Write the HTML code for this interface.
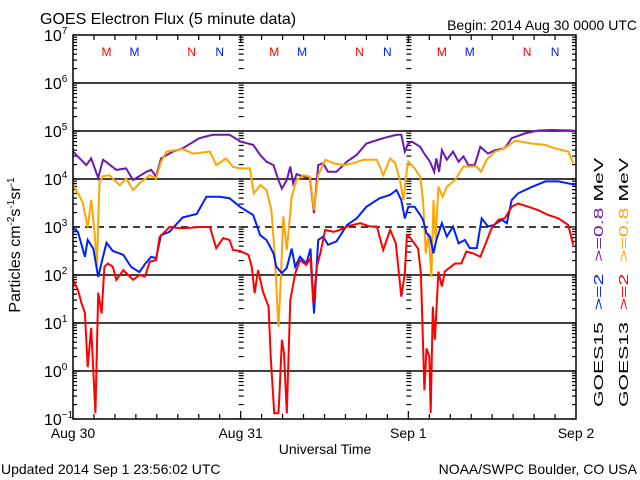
<!DOCTYPE html>
<html><head><meta charset="utf-8">
<style>
html,body{margin:0;padding:0;background:#fff;}
svg{display:block;font-family:"Liberation Sans",sans-serif;}
</style></head>
<body>
<svg id="chart" width="640" height="480" viewBox="0 0 640 480" xmlns="http://www.w3.org/2000/svg">
<rect x="0" y="0" width="640" height="480" fill="#fff"/>
<text x="40" y="24" font-size="16" fill="#000">GOES Electron Flux (5 minute data)</text>
<text x="637" y="30" font-size="14" text-anchor="end" fill="#000">Begin: 2014 Aug 30 0000 UTC</text>
<g id="grid"></g>
<g id="ticks"></g>
<g id="ylabels"></g>
<g id="xlabels"></g>
<g id="markers"></g>
<g id="series"></g>
<rect x="73" y="35" width="503" height="384" fill="none" stroke="#000" stroke-width="1.5"/>
<text transform="translate(20,245) rotate(-90)" font-size="16" text-anchor="middle" fill="#000">Particles cm<tspan font-size="10" dy="-6">-2</tspan><tspan dy="6">s</tspan><tspan font-size="10" dy="-6">-1</tspan><tspan dy="6">sr</tspan><tspan font-size="10" dy="-6">-1</tspan></text>
<text x="325" y="454" font-size="14" text-anchor="middle" fill="#000">Universal Time</text>
<text x="1" y="474" font-size="14" fill="#000">Updated 2014 Sep  1 23:56:02 UTC</text>
<text x="637" y="474" font-size="14" text-anchor="end" fill="#000">NOAA/SWPC Boulder, CO USA</text>
<text transform="translate(603,407) rotate(-90)" font-size="13" textLength="249" lengthAdjust="spacingAndGlyphs" xml:space="preserve"><tspan fill="#000">GOES15  </tspan><tspan fill="#0020ff">&gt;=2  </tspan><tspan fill="#6a1ab0">&gt;=0.8 </tspan><tspan fill="#000">MeV</tspan></text>
<text transform="translate(628,407) rotate(-90)" font-size="13" textLength="249" lengthAdjust="spacingAndGlyphs" xml:space="preserve"><tspan fill="#000">GOES13  </tspan><tspan fill="#ff0000">&gt;=2  </tspan><tspan fill="#ffa500">&gt;=0.8 </tspan><tspan fill="#000">MeV</tspan></text>
</svg>
<script>
// Data: time in hours since 2014 Aug 30 00:00, value = log10(flux)
const g15LowT = [0,1.9,2.6,3.6,4.3,4.8,6.2,7.6,8.6,10.5,11.2,11.9,12.6,14.3,15.7,18.1,20.0,22.4,24.0,25.8,26.8,27.7,28.7,29.4,29.9,30.6,31.1,31.5,32.0,33.0,33.9,34.5,35.1,35.8,36.5,37.7,39.2,40.6,42.0,44.4,46.3,47.0,47.5,48.0,48.5,49.7,50.4,51.1,51.7,52.0,52.4,52.8,53.5,54.4,55.2,55.9,56.6,57.5,58.3,59.4,60.4,61.8,62.8,64.7,66.6,68.5,71.4,72];
const g15LowV = [4.57,4.29,4.43,4.02,4.4,4.35,4.19,4.22,3.98,4.15,4.19,4.05,4.43,4.57,4.64,4.85,4.92,4.92,4.78,4.71,4.5,4.36,4.29,3.98,3.8,3.98,4.26,3.91,4.1,4.05,4.02,3.29,4.29,4.33,4.15,4.15,4.36,4.5,4.74,4.85,4.92,4.92,4.57,4.74,4.78,4.67,4.5,4.36,4.15,4.43,4.15,4.6,4.4,4.57,4.36,4.47,4.29,4.29,4.67,4.53,4.6,4.64,4.85,4.95,5.01,5.02,5.01,5.0];
const g13LowT = [0,1.0,1.4,2.1,2.6,3.1,3.4,3.8,4.3,5.2,6.7,7.6,8.6,9.5,11.0,11.9,12.6,13.4,15.7,17.2,19.6,20.5,21.9,22.9,24.0,25.3,25.9,26.8,27.7,28.4,28.9,29.4,29.7,30.1,30.6,31.3,32.0,33.0,33.9,34.5,35.1,36.1,37.3,38.7,40.1,41.6,43.5,44.4,45.4,46.1,46.8,47.3,47.8,48.0,48.9,49.7,50.1,50.5,50.9,51.3,51.6,51.9,52.3,52.9,53.5,54.7,55.9,57.1,57.8,58.4,59.2,60.4,61.8,63.3,65.6,67.6,69.0,70.9,71.6];
const g13LowV = [3.87,3.63,3.5,3.0,3.56,2.87,2.17,3.92,4.06,4.08,3.87,4.01,3.77,3.91,4.08,4.01,4.36,4.57,4.62,4.53,4.57,4.29,4.43,4.25,4.22,4.22,3.7,3.87,3.77,3.35,2.38,0.92,1.76,3.22,2.52,3.63,3.98,4.08,4.05,3.35,4.08,4.4,4.33,4.29,4.33,4.4,4.4,4.08,4.43,4.33,3.98,3.56,4.19,4.36,4.22,4.05,3.56,2.45,2.87,1.96,3.56,2.76,3.84,3.63,3.84,3.98,4.26,4.26,4.26,4.15,4.4,4.57,4.64,4.8,4.74,4.71,4.64,4.57,4.33];
const g15HighT = [0,0.7,1.7,2.1,2.9,3.6,4.3,4.8,5.7,7.2,8.3,9.5,10.3,11.2,11.9,12.6,13.8,15.7,17.7,19.1,21.0,22.4,23.9,25.8,26.8,27.7,28.7,29.1,29.9,30.6,31.3,31.8,32.5,33.4,34.0,34.5,35.1,35.8,36.5,37.7,39.2,40.6,42.0,43.9,45.4,46.3,47.0,47.5,48.0,48.9,49.7,50.1,50.6,51.1,51.6,52.0,52.8,53.5,54.4,55.2,56.1,56.8,57.8,58.5,59.4,60.2,61.4,62.1,62.8,63.7,65.6,67.6,69.5,71.9];
const g15HighV = [2.98,2.9,2.38,2.73,2.55,1.96,2.38,2.67,2.5,2.42,2.17,2.06,2.23,2.38,2.35,2.83,2.9,3.2,3.27,3.63,3.63,3.6,3.42,3.25,2.83,2.73,2.45,2.17,2.04,2.15,2.55,2.17,2.38,2.24,2.55,1.2,2.73,2.8,2.63,2.7,3.04,3.18,3.42,3.6,3.67,3.77,3.56,3.18,3.42,3.42,3.25,3.15,2.87,2.8,2.45,2.73,3.08,2.8,3.01,2.66,2.73,2.56,2.56,3.18,3.01,3.04,3.15,3.08,3.56,3.7,3.83,3.95,3.95,3.88];
const g13HighT = [0,0.7,1.2,1.7,2.1,2.6,3.2,3.6,4.1,4.5,5.0,5.7,6.2,7.2,8.6,9.5,10.3,11.0,11.9,12.4,13.8,15.7,18.1,19.6,20.5,21.5,22.4,22.9,23.9,25.1,25.6,26.0,26.5,27.2,28.0,28.3,28.8,29.4,29.5,29.9,30.2,30.6,31.1,31.8,32.5,33.4,34.0,34.4,34.9,35.4,36.1,37.3,38.2,39.2,41.1,42.5,43.5,44.4,45.4,46.2,47.0,47.5,47.8,48.0,48.7,49.4,49.8,50.3,50.6,51.0,51.2,51.5,51.8,52.3,52.8,53.2,54.7,55.6,56.3,57.3,58.3,59.0,59.9,60.9,61.8,62.8,63.7,65.2,66.6,68.0,69.5,70.9,71.6];
const g13HighV = [1.9,1.69,1.42,1.21,0.08,0.9,-0.88,1.63,1.2,2.17,2.24,2.17,1.9,2.1,1.9,2.0,1.97,2.28,2.31,2.79,3.0,2.97,3.0,3.0,2.56,2.77,2.73,2.52,2.5,2.42,2.17,1.62,2.1,1.65,1.34,0.3,-0.88,-0.88,-0.64,0.65,0.37,-0.88,1.48,2.03,2.31,2.21,2.35,1.41,2.17,2.45,2.94,2.9,2.94,3.01,3.08,3.01,3.01,2.52,2.94,2.66,1.55,2.03,2.83,2.83,2.69,2.55,2.03,-0.4,0.47,0.3,-0.88,1.34,0.65,2.07,1.76,2.07,2.24,2.24,2.49,2.45,2.38,2.63,2.97,3.15,3.18,3.42,3.49,3.42,3.35,3.25,3.18,3.04,2.63];
const yTickLabels = ["7","6","5","4","3","2","1","0","-1"];
const dayLabels = ["Aug 30","Aug 31","Sep 1","Sep 2"];

const NS = "http://www.w3.org/2000/svg";
const X0 = 73, X1 = 576, Y0 = 35, Y1 = 419, HOURS = 72, LMAX = 7, LMIN = -1;
function xs(h){ return X0 + (h / HOURS) * (X1 - X0); }
function ys(l){ return Y0 + (LMAX - l) / (LMAX - LMIN) * (Y1 - Y0); }
function mk(tag, attrs, parent){ const e = document.createElementNS(NS, tag); for (const k in attrs) e.setAttribute(k, attrs[k]); parent.appendChild(e); return e; }

const grid = document.getElementById('grid');
const ticks = document.getElementById('ticks');
const ylab = document.getElementById('ylabels');
const xlab = document.getElementById('xlabels');

for (let d = LMIN + 1; d < LMAX; d++) {
  const ln = mk('line', {x1: X0, x2: X1, y1: ys(d), y2: ys(d), stroke: '#000', 'stroke-width': 1.5}, grid);
  if (d === 3) ln.setAttribute('stroke-dasharray', '7,5');
  
  
}
const tickXs = [X0, xs(24), xs(48), X1];
for (let d = LMIN; d < LMAX; d++) {
  for (let k = 1; k <= 9; k++) {
    const y = ys(d + Math.log10(k));
    const len = k === 1 ? 6 : 4;
    tickXs.forEach((tx, i) => {
      if (i === 0) mk('line', {x1: tx, x2: tx + len, y1: y, y2: y, stroke: '#000', 'stroke-width': 1.2}, ticks);
      else if (i === 3) mk('line', {x1: tx - len, x2: tx, y1: y, y2: y, stroke: '#000', 'stroke-width': 1.2}, ticks);
      else mk('line', {x1: tx - 2, x2: tx + 3, y1: y, y2: y, stroke: '#000', 'stroke-width': 1.2}, ticks);
    });
  }
}
for (let h = 3; h < HOURS; h += 3) {
  const len = h % 24 === 0 ? 8 : 5;
  mk('line', {x1: xs(h), x2: xs(h), y1: Y1, y2: Y1 - len, stroke: '#000', 'stroke-width': 1.2}, ticks);
  mk('line', {x1: xs(h), x2: xs(h), y1: Y0, y2: Y0 + len, stroke: '#000', 'stroke-width': 1.2}, ticks);
}
yTickLabels.forEach((e, i) => {
  const t = mk('text', {x: 44, y: ys(LMAX - i) + 6, 'font-size': 16, fill: '#000'}, ylab);
  
  
  t.textContent = '10';
  const s = document.createElementNS(NS, 'tspan');
  s.setAttribute('font-size', 10); s.setAttribute('dy', -7);
  s.textContent = e === '-1' ? '\u22121' : e;
  t.appendChild(s);
});
dayLabels.forEach((lab, i) => {
  const t = mk('text', {x: xs(i * 24), y: 438, 'font-size': 14, 'text-anchor': 'middle', fill: '#000'}, xlab);
  
  
  t.textContent = lab;
});
const markers = document.getElementById('markers');
const mOff = [[4.8, 'M', '#ff0000'], [8.8, 'M', '#0020ff'], [17.0, 'N', '#ff0000'], [21.0, 'N', '#0020ff']];
for (let d = 0; d < 3; d++) mOff.forEach(m => {
  const t = mk('text', {x: xs(d * 24 + m[0]), y: 56, 'font-size': 12, 'text-anchor': 'middle', fill: m[2]}, markers);
  
  
  t.textContent = m[1];
});
const series = document.getElementById('series');
function draw(T, V, color, name) {
  const pts = T.map((t, i) => xs(t).toFixed(1) + ',' + ys(Math.max(V[i], LMIN)).toFixed(1)).join(' ');
  const p = mk('polyline', {points: pts, fill: 'none', stroke: color, 'stroke-width': 2, 'stroke-linejoin': 'miter'}, series);
  
  
}
draw(g15LowT, g15LowV, '#6a1ab0', 'goes15-ge0.8-line');
draw(g13LowT, g13LowV, '#ffa500', 'goes13-ge0.8-line');
draw(g15HighT, g15HighV, '#0020ff', 'goes15-ge2-line');
draw(g13HighT, g13HighV, '#ff0000', 'goes13-ge2-line');
</script>
</body></html>
